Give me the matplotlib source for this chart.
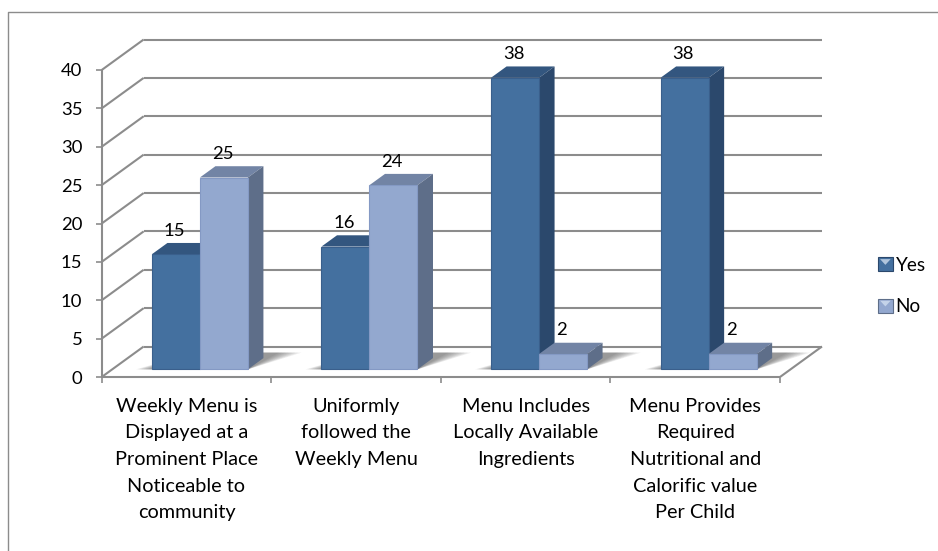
import matplotlib
matplotlib.use("Agg")
import matplotlib.pyplot as plt
from matplotlib.legend_handler import HandlerBase
from matplotlib.patches import Patch, Polygon, Rectangle

# --- data ---
categories = [
    "Weekly Menu is\nDisplayed at a\nProminent Place\nNoticeable to\ncommunity",
    "Uniformly\nfollowed the\nWeekly Menu",
    "Menu Includes\nLocally Available\nIngredients",
    "Menu Provides\nRequired\nNutritional and\nCalorific value\nPer Child",
]
yes_values = [15, 16, 38, 38]
no_values = [25, 24, 2, 2]
y_ticks = [0, 5, 10, 15, 20, 25, 30, 35, 40]

GRID = "#8c8c8c"
YES_COLORS = ("#44709f", "#33567f", "#2b486c")  # front, top, side
NO_COLORS = ("#93a8cf", "#7284a5", "#5e6e89")

W, H = 938, 551
plt.rcParams["font.family"] = ["Lato", "DejaVu Sans"]
plt.rcParams["font.size"] = 13.3


def px_axes(left, right, top, bottom):
    return [left / W, 1 - bottom / H, (right - left) / W, (bottom - top) / H]


fig = plt.figure(figsize=(W / 100, H / 100), dpi=100)
fig.patch.set_facecolor("white")
ax = fig.add_axes(px_axes(101.7, 780, 70, 377))
ax.set_xlim(0, 4)
ax.set_ylim(0, 40)

# pixel -> data scale, used for the fake 3d depth
sx = 4 / (780 - 101.7)
sy = 40 / (377 - 70)
DEPTH_X = 42 * sx
DEPTH_Y = 30.5 * sy


def proj(x, y, d):
    return (x + d * DEPTH_X, y + d * DEPTH_Y)


def poly(points, color, z, alpha=None, edge=None):
    p = Polygon(points, closed=True, facecolor=color, edgecolor=edge or "none",
                lw=0.8 if edge else 0, alpha=alpha, zorder=z, clip_on=False)
    ax.add_patch(p)


def line(a, b, lw=1.5):
    ax.plot([a[0], b[0]], [a[1], b[1]], color=GRID, lw=lw, zorder=1,
            clip_on=False, solid_capstyle="butt")


# walls
for v in y_ticks:
    line(proj(0, v, 0), proj(0, v, 1))
    line(proj(0, v, 1), proj(4, v, 1))
line((0, 0), (0, 40))
line((0, 0), (4, 0))
line((4, 0), proj(4, 0, 1))


def bar(x0, width, value, colors, z):
    d0, d1 = 0.25, 0.62
    x1 = x0 + width
    front, top, side = colors
    poly([proj(x0, 0, d0), proj(x1, 0, d0), proj(x1, value, d0), proj(x0, value, d0)],
         front, z + 0.2, edge="#3a5f8c" if colors is YES_COLORS else "#8499c4")
    poly([proj(x0, value, d0), proj(x1, value, d0), proj(x1, value, d1), proj(x0, value, d1)],
         top, z)
    poly([proj(x1, 0, d0), proj(x1, 0, d1), proj(x1, value, d1), proj(x1, value, d0)],
         side, z + 0.1)


BAR_W = 48 * sx
BAR_START = 0.234

# floor shadows
for i in range(4):
    x0 = i + BAR_START
    for k in range(8):
        grow = (8 - k) * 2.0
        poly([proj(x0 - grow * sx, 0, 0.25), proj(x0 + 2 * BAR_W, 0, 0.25),
              proj(x0 + 2 * BAR_W + (5 + grow * 1.6) * sx, 0, 0.80), proj(x0 + 20 * sx, 0, 0.80)],
             "#444444", 2, alpha=0.09)

# bars + labels
for i in range(4):
    x0 = i + BAR_START
    bar(x0, BAR_W, yes_values[i], YES_COLORS, 3 + i)
    bar(x0 + BAR_W, BAR_W, no_values[i], NO_COLORS, 3.5 + i)
    for off, val in ((0, yes_values[i]), (BAR_W, no_values[i])):
        ax.annotate(str(val), proj(x0 + off + BAR_W / 2, val, 0.25), xytext=(-1, 17),
                    textcoords="offset points", ha="center", va="center",
                    color="black", zorder=10, annotation_clip=False)

# axes
for s in ("top", "right", "bottom", "left"):
    ax.spines[s].set_visible(False)
ax.set_yticks(y_ticks)
ax.set_xticks([0, 1, 2, 3, 4])
ax.set_xticklabels([])
ax.set_xticks([0.5, 1.5, 2.5, 3.5], minor=True)
ax.set_xticklabels(categories, minor=True, linespacing=1.69, va="top", fontsize=14.3)
ax.tick_params(axis="x", which="major", length=4, width=1.2, color=GRID)
ax.tick_params(axis="x", which="minor", length=0, pad=15)
ax.tick_params(axis="y", length=4, width=1.2, color=GRID, pad=10)
ax.patch.set_visible(False)


# legend key with the small light wedge at the top
class SwatchHandler(HandlerBase):
    def create_artists(self, legend, orig, xd, yd, width, height, fontsize, trans):
        rect = Rectangle((-xd, -yd), width, height, facecolor=orig.get_facecolor(),
                         edgecolor=orig.get_edgecolor(), lw=0.8, transform=trans)
        wedge = Polygon([(-xd + 1.5, -yd + height - 1.5), (-xd + width - 1.5, -yd + height - 1.5),
                         (-xd + width / 2, -yd + height * 0.45)], closed=True,
                        facecolor="#d5e2f2", edgecolor="none", alpha=0.75, transform=trans)
        return [rect, wedge]


handles = [Patch(facecolor=YES_COLORS[0], edgecolor=YES_COLORS[2], label="Yes"),
           Patch(facecolor=NO_COLORS[0], edgecolor=NO_COLORS[2], label="No")]
fig.legend(handles=handles, loc="center left", bbox_to_anchor=(878 / W, 1 - 286 / H),
           frameon=False, handlelength=0.78, handleheight=0.78, handletextpad=0.15,
           labelspacing=1.3, borderpad=0, borderaxespad=0, fontsize=13.6,
           handler_map={Patch: SwatchHandler()})

# chart border
fig.add_artist(plt.Line2D([8 / W, 8 / W, 1], [0, 1 - 11.5 / H, 1 - 11.5 / H],
                          color="#8c8c8c", lw=1, transform=fig.transFigure))

fig.savefig("out.png", dpi=100)
